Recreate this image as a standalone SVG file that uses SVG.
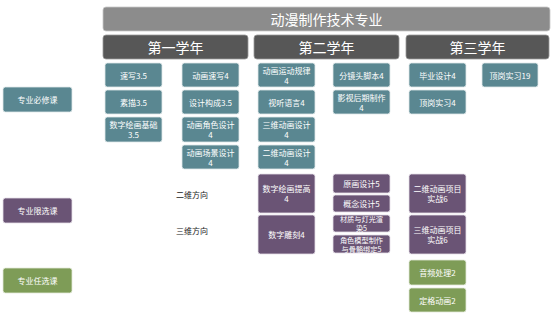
<svg xmlns="http://www.w3.org/2000/svg" width="555" height="318" viewBox="0 0 555 318">
<style>
text{font-family:"Noto Sans CJK SC","Noto Sans",sans-serif;text-anchor:middle;dominant-baseline:central}
.t{fill:#5A8791;stroke:#dfe8ea;stroke-width:0.8}
.p{fill:#6A5475;stroke:#e6e0e8;stroke-width:0.8}
.g{fill:#7E9C57;stroke:#e3ead9;stroke-width:0.8}
.n{fill:#fff;font-size:8px}
.s{fill:#fff;font-size:7.2px}
.y{fill:#575757;stroke:#9a9a9a;stroke-width:0.8}
.yt{fill:#fff;font-size:14px}
.lbl{fill:#222;font-size:8px}
</style>
<rect width="555" height="318" fill="#fff"/>
<g id="title"><rect x="103" y="7" width="447" height="24" rx="3" fill="#8C8C8C" stroke="#c8c8c8" stroke-width="0.8"/><text x="326.5" y="19" style="fill:#fff;font-size:14px">动漫制作技术专业</text></g>
<g id="year1"><rect class="y" x="103" y="35" width="145" height="24" rx="3"/><text class="yt" x="175.5" y="47">第一学年</text></g>
<g id="year2"><rect class="y" x="254" y="35" width="145" height="24" rx="3"/><text class="yt" x="326.5" y="47">第二学年</text></g>
<g id="year3"><rect class="y" x="406" y="35" width="143" height="24" rx="3"/><text class="yt" x="477.5" y="47">第三学年</text></g>

<g id="cat1"><rect class="t" x="3" y="87" width="69" height="25" rx="2.5"/><text class="n" x="37.5" y="99.5">专业必修课</text></g>
<g id="cat2"><rect class="p" x="3" y="198" width="69" height="25" rx="2.5"/><text class="n" x="37.5" y="210.5">专业限选课</text></g>
<g id="cat3"><rect class="g" x="3" y="268" width="69" height="25" rx="2.5"/><text class="n" x="37.5" y="280.5">专业任选课</text></g>

<g id="lbl2d"><text class="lbl" x="192" y="194">二维方向</text></g>
<g id="lbl3d"><text class="lbl" x="192" y="230">三维方向</text></g>

<!-- Year 1 -->
<g id="y1a"><rect class="t" x="105" y="63" width="57" height="24" rx="2.5"/><text class="n" x="133.5" y="75">速写3.5</text></g>
<g id="y1b"><rect class="t" x="105" y="90" width="57" height="24" rx="2.5"/><text class="n" x="133.5" y="102">素描3.5</text></g>
<g id="y1c"><rect class="t" x="105" y="117" width="57" height="25" rx="2.5"/><text class="n" x="133.5" y="124">数字绘画基础</text><text class="n" x="133.5" y="134">3.5</text></g>
<g id="y1d"><rect class="t" x="182" y="63" width="57" height="24" rx="2.5"/><text class="n" x="210.5" y="75">动画速写4</text></g>
<g id="y1e"><rect class="t" x="182" y="90" width="57" height="24" rx="2.5"/><text class="n" x="210.5" y="102">设计构成3.5</text></g>
<g id="y1f"><rect class="t" x="182" y="117" width="57" height="25" rx="2.5"/><text class="n" x="210.5" y="124">动画角色设计</text><text class="n" x="210.5" y="134">4</text></g>
<g id="y1g"><rect class="t" x="182" y="145" width="57" height="24" rx="2.5"/><text class="n" x="210.5" y="152">动画场景设计</text><text class="n" x="210.5" y="162">4</text></g>

<!-- Year 2 -->
<g id="y2a"><rect class="t" x="258" y="63" width="57" height="24" rx="2.5"/><text class="n" x="286.5" y="70">动画运动规律</text><text class="n" x="286.5" y="80">4</text></g>
<g id="y2b"><rect class="t" x="258" y="90" width="57" height="24" rx="2.5"/><text class="n" x="286.5" y="102">视听语言4</text></g>
<g id="y2c"><rect class="t" x="258" y="117" width="57" height="25" rx="2.5"/><text class="n" x="286.5" y="124">三维动画设计</text><text class="n" x="286.5" y="134">4</text></g>
<g id="y2d"><rect class="t" x="258" y="145" width="57" height="24" rx="2.5"/><text class="n" x="286.5" y="152">二维动画设计</text><text class="n" x="286.5" y="162">4</text></g>
<g id="y2e"><rect class="t" x="333" y="63" width="57" height="24" rx="2.5"/><text class="n" x="361.5" y="75">分镜头脚本4</text></g>
<g id="y2f"><rect class="t" x="333" y="90" width="57" height="24" rx="2.5"/><text class="n" x="361.5" y="97">影视后期制作</text><text class="n" x="361.5" y="107">4</text></g>
<g id="y2g"><rect class="p" x="258" y="174" width="57" height="39" rx="2.5"/><text class="n" x="286.5" y="188.5">数字绘画提高</text><text class="n" x="286.5" y="198.5">4</text></g>
<g id="y2h"><rect class="p" x="258" y="215" width="57" height="39" rx="2.5"/><text class="n" x="286.5" y="234.5">数字雕刻4</text></g>
<g id="y2i"><rect class="p" x="333" y="174" width="57" height="19" rx="2.5"/><text class="n" x="361.5" y="183.5">原画设计5</text></g>
<g id="y2j"><rect class="p" x="333" y="195" width="57" height="17" rx="2.5"/><text class="n" x="361.5" y="203.5">概念设计5</text></g>
<g id="y2k"><rect class="p" x="333" y="215" width="57" height="17" rx="2.5"/><text class="s" x="361.5" y="219">材质与灯光渲</text><text class="s" x="361.5" y="228">染5</text></g>
<g id="y2l"><rect class="p" x="333" y="235" width="57" height="18" rx="2.5"/><text class="s" x="361.5" y="239.5">角色模型制作</text><text class="s" x="361.5" y="248.5">与骨骼绑定5</text></g>

<!-- Year 3 -->
<g id="y3a"><rect class="t" x="409" y="63" width="57" height="24" rx="2.5"/><text class="n" x="437.5" y="75">毕业设计4</text></g>
<g id="y3b"><rect class="t" x="409" y="90" width="57" height="24" rx="2.5"/><text class="n" x="437.5" y="102">顶岗实习4</text></g>
<g id="y3c"><rect class="t" x="482" y="63" width="56" height="24" rx="2.5"/><text class="n" x="510" y="75">顶岗实习19</text></g>
<g id="y3d"><rect class="p" x="409" y="174" width="57" height="39" rx="2.5"/><text class="n" x="437.5" y="188.5">二维动画项目</text><text class="n" x="437.5" y="198.5">实战6</text></g>
<g id="y3e"><rect class="p" x="409" y="215" width="57" height="39" rx="2.5"/><text class="n" x="437.5" y="229.5">三维动画项目</text><text class="n" x="437.5" y="239.5">实战6</text></g>
<g id="y3f"><rect class="g" x="409" y="260" width="57" height="25" rx="2.5"/><text class="n" x="437.5" y="272.5">音频处理2</text></g>
<g id="y3g"><rect class="g" x="409" y="288" width="57" height="24" rx="2.5"/><text class="n" x="437.5" y="300">定格动画2</text></g>

<g id="connectors"></g>
</svg>
